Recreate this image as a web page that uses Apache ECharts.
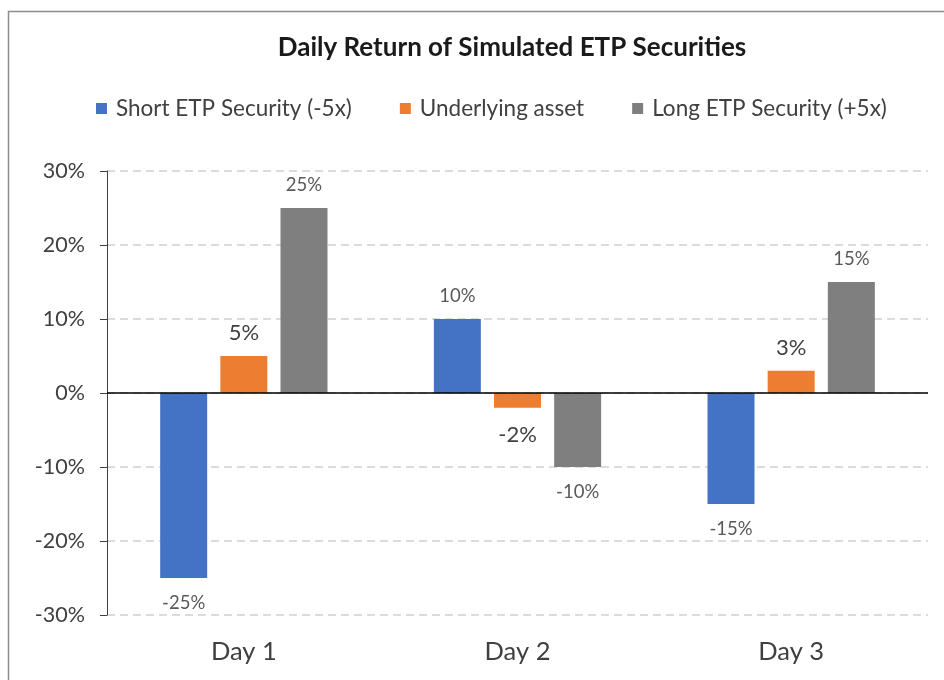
<!DOCTYPE html>
<html>
<head>
<meta charset="utf-8">
<script src="https://cdn.jsdelivr.net/npm/echarts@6/dist/echarts.min.js"></script>
<style>html,body{margin:0;padding:0;background:#fff}#c{width:944px;height:680px}</style>
</head>
<body>
<div id="c"></div>
<script>
const categories = ['Day 1', 'Day 2', 'Day 3'];
const seriesNames = ['Short ETP Security (-5x)', 'Underlying asset', 'Long ETP Security (+5x)'];
const shortValues = [-25, 10, -15];
const underlyingValues = [5, -2, 3];
const longValues = [25, -10, 15];
const yMin = -30, yMax = 30, yStep = 10;

const FONT = 'Lato';
function items(vals, size, color, dPos, dNeg) {
  return vals.map(v => ({
    value: v,
    label: {
      position: v >= 0 ? 'top' : 'bottom',
      distance: v >= 0 ? dPos : dNeg,
      fontSize: size, color: color, fontFamily: FONT
    }
  }));
}
function mkSeries(name, vals, color, size, lblColor, dPos, dNeg, extra) {
  return Object.assign({
    name: name, type: 'bar', barWidth: 47, barGap: '28%',
    itemStyle: { color: color },
    label: { show: true, formatter: p => p.value + '%' },
    data: items(vals, size, lblColor, dPos, dNeg)
  }, extra || {});
}
const chart = echarts.init(document.getElementById('c'), null, { renderer: 'canvas' });
chart.setOption({
  backgroundColor: '#fff',
  animation: false,
  graphic: [{
    type: 'rect', shape: { x: 8.5, y: 11.5, width: 1000, height: 1000 },
    style: { fill: 'none', stroke: '#8c8c8c', lineWidth: 1.5 }, silent: true
  }],
  title: {
    text: 'Daily Return of Simulated ETP Securities',
    left: 507, top: 30, textAlign: 'center',
    textStyle: { fontFamily: FONT, fontWeight: 'bold', fontSize: 26, color: '#1a1a1a' }
  },
  legend: {
    left: 96, top: 97, padding: 0, itemWidth: 11, itemHeight: 11, itemGap: 48, icon: 'rect',
    textStyle: { fontFamily: FONT, fontSize: 22.5, color: '#404040', padding: [0, 0, 0, 4] },
    data: seriesNames
  },
  grid: { left: 107, right: 16, top: 171, bottom: 65, containLabel: false },
  xAxis: {
    type: 'category', data: categories,
    axisLine: { show: false, onZero: false }, axisTick: { show: false },
    axisLabel: { fontFamily: FONT, fontSize: 25.5, color: '#404040', margin: 24 }
  },
  yAxis: {
    type: 'value', min: yMin, max: yMax, interval: yStep,
    axisLine: { show: true, lineStyle: { color: '#404040', width: 1 } },
    axisTick: { show: true, length: 7, lineStyle: { color: '#404040' } },
    axisLabel: { formatter: '{value}%', fontFamily: FONT, fontSize: 21.5, color: '#404040', margin: 22 },
    splitLine: { show: true, lineStyle: { color: '#cfcfcf', type: [8, 5], width: 1.5 } }
  },
  series: [
    mkSeries(seriesNames[0], shortValues, '#4472C4', 18.5, '#595959', 13, 16, {
      markLine: {
        silent: true, symbol: 'none', label: { show: false },
        lineStyle: { color: '#000', type: 'solid', width: 1.5 },
        data: [{ yAxis: 0 }]
      }
    }),
    mkSeries(seriesNames[1], underlyingValues, '#ED7D31', 22, '#404040', 12, 16),
    mkSeries(seriesNames[2], longValues, '#7F7F7F', 18.5, '#595959', 13, 16)
  ]
});
</script>
</body>
</html>
